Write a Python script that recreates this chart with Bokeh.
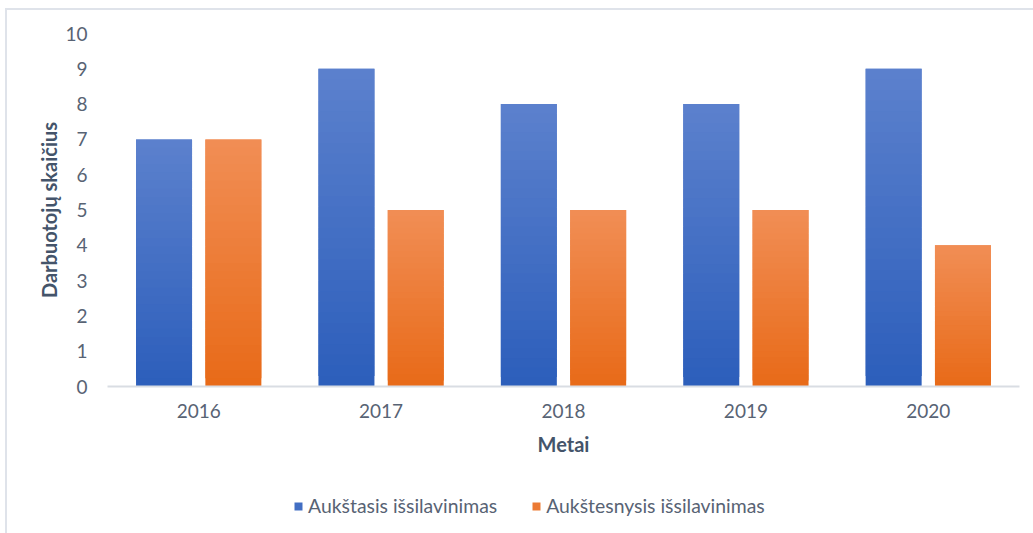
from bokeh.plotting import figure
from bokeh.layouts import column
from bokeh.models import FactorRange, FixedTicker, ColumnDataSource, Legend, LegendItem
from bokeh.transform import dodge
from bokeh.embed import file_html
from bokeh.resources import INLINE

years = ["2016", "2017", "2018", "2019", "2020"]
series_names = ["Aukštasis išsilavinimas", "Aukštesnysis išsilavinimas"]
aukstasis = [7, 9, 8, 8, 9]
aukstesnysis = [7, 5, 5, 5, 4]
y_ticks = [0, 1, 2, 3, 4, 5, 6, 7, 8, 9, 10]

FONT = "Lato"
N_SLICES = 30
BLUE_TOP, BLUE_BOT = (92, 129, 205), (44, 94, 187)
ORANGE_TOP, ORANGE_BOT = (241, 142, 85), (232, 106, 24)


def lerp_color(c1, c2, t):
    r = [round(a + (b - a) * t) for a, b in zip(c1, c2)]
    return "#%02x%02x%02x" % tuple(r)


def gradient_source(values, top_rgb, bottom_rgb):
    xs, bottoms, tops, colors = [], [], [], []
    for yr, v in zip(years, values):
        for i in range(N_SLICES):
            b = v * i / N_SLICES
            t = v * min(i + 2, N_SLICES) / N_SLICES  # overlap to hide seams
            xs.append(yr)
            bottoms.append(b)
            tops.append(t)
            colors.append(lerp_color(bottom_rgb, top_rgb, (i + 0.5) / N_SLICES))
    return ColumnDataSource(dict(year=xs, bottom=bottoms, top=tops, color=colors))


p = figure(
    x_range=FactorRange(*years, range_padding=0),
    y_range=(0, 10),
    width=1026, height=460,
    output_backend="svg", toolbar_location=None,
    min_border_left=100, min_border_right=14, min_border_top=23, min_border_bottom=84,
)
p.outline_line_color = None
p.xgrid.visible = False
p.ygrid.visible = False

src_a = gradient_source(aukstasis, BLUE_TOP, BLUE_BOT)
src_b = gradient_source(aukstesnysis, ORANGE_TOP, ORANGE_BOT)

p.vbar(x=dodge("year", -0.19, range=p.x_range), width=0.307, bottom="bottom", top="top",
       source=src_a, fill_color="color", line_color=None)
p.vbar(x=dodge("year", 0.19, range=p.x_range), width=0.307, bottom="bottom", top="top",
       source=src_b, fill_color="color", line_color=None)

# y axis
p.yaxis.ticker = FixedTicker(ticks=y_ticks)
p.yaxis.axis_line_color = None
p.yaxis.major_tick_line_color = None
p.yaxis.minor_tick_line_color = None
p.yaxis.major_label_standoff = 14
p.yaxis.major_label_text_font = FONT
p.yaxis.major_label_text_font_size = "19px"
p.yaxis.major_label_text_color = "#586374"
p.yaxis.axis_label = "Darbuotojų skaičius"
p.yaxis.axis_label_text_font = FONT
p.yaxis.axis_label_text_font_size = "20px"
p.yaxis.axis_label_text_font_style = "bold"
p.yaxis.axis_label_text_color = "#44546a"
p.yaxis.axis_label_standoff = 1

# x axis
p.xaxis.axis_line_color = "#d9dde3"
p.xaxis.axis_line_width = 2
p.xaxis.major_tick_line_color = None
p.xaxis.minor_tick_line_color = None
p.xaxis.major_label_standoff = 11
p.xaxis.major_label_text_font = FONT
p.xaxis.major_label_text_font_size = "19px"
p.xaxis.major_label_text_color = "#586374"
p.xaxis.axis_label = "Metai"
p.xaxis.axis_label_text_font = FONT
p.xaxis.axis_label_text_font_size = "20px"
p.xaxis.axis_label_text_font_style = "bold"
p.xaxis.axis_label_text_color = "#44546a"
p.xaxis.axis_label_standoff = 11

# legend strip
pl = figure(width=1026, height=63, output_backend="svg", toolbar_location=None,
            min_border=0, x_range=(0, 1), y_range=(0, 1))
pl.axis.visible = False
pl.grid.visible = False
pl.outline_line_color = None
la = pl.vbar(x=[0.5], bottom=[0], top=[0], width=0.0, fill_color=lerp_color(BLUE_BOT, BLUE_TOP, 0.45), line_color=None)
lb = pl.vbar(x=[0.5], bottom=[0], top=[0], width=0.0, fill_color=lerp_color(ORANGE_BOT, ORANGE_TOP, 0.45), line_color=None)
legend = Legend(
    items=[LegendItem(label=series_names[0], renderers=[la]),
           LegendItem(label=series_names[1], renderers=[lb])],
    orientation="horizontal", location=(186, 16),
    glyph_width=10, glyph_height=10, label_standoff=5, spacing=34,
    label_text_font=FONT, label_text_font_size="19.4px", label_text_color="#586374",
    border_line_color=None, background_fill_alpha=0, padding=0, margin=0,
)
pl.add_layout(legend, "center")

layout = column(p, pl, spacing=0)
layout.margin = (8, 0, 0, 5)
layout.styles = {"border-top": "2px solid #dfe3ea", "border-left": "2px solid #dfe3ea"}

open("out.html", "w").write(file_html(layout, INLINE))
